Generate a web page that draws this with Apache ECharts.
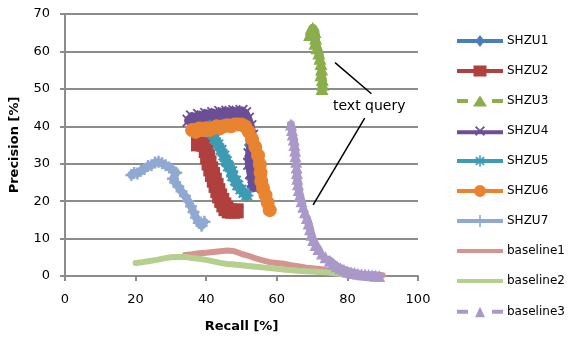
<!DOCTYPE html>
<html><head><meta charset="utf-8">
<script src="https://cdn.jsdelivr.net/npm/echarts@6/dist/echarts.min.js"></script>
<style>html,body{margin:0;padding:0;background:#fff}#c{width:570px;height:338px}</style>
</head><body><div id="c"></div>
<script>
const seriesNames = ['SHZU1','SHZU2','SHZU3','SHZU4','SHZU5','SHZU6','SHZU7','baseline1','baseline2','baseline3'];
const xTicks = [0,20,40,60,80,100];
const yTicks = [0,10,20,30,40,50,60,70];

const shzu1 = [[36,41],[38,41.3],[40,41.5],[42,41.8],[44,42],[46,42.2],[48,42.5],[50,42.3],[51.5,41.5],[52.3,38.5],[52.5,35],[52.5,32],[52.7,29],[53,26],[53.2,24]];
const shzu2 = [[37.8,35.3],[39.3,35.2],[40,33.5],[40.4,31.8],[40.8,30.2],[41.3,28.6],[41.8,27.1],[42.3,25.6],[42.8,24.2],[43.3,22.8],[43.8,21.4],[44.4,20.2],[45,19],[45.6,18],[46.5,17.4],[47.5,17.3],[48.5,17.4]];
const shzu3 = [[69.3,64.5],[70.2,66.2],[70.8,65.3],[71,63.6],[70.8,62.2],[71.4,61],[71.9,59.6],[72.2,58.2],[72.5,56.8],[72.7,55.3],[72.5,53.8],[72.9,52.5],[73,51.2],[72.8,50.1]];
const shzu4 = [[35,41.5],[36,42.6],[37,42],[38,43],[39,42.4],[40,43.3],[41,42.6],[42,43.5],[43,43],[44,43.8],[45,43.2],[46,43.9],[47,43.1],[48,44],[49,43.5],[50,44.1],[51,43.5],[51.8,42],[52.5,40],[53,37.5],[52.8,35],[52.3,32.5],[52.2,30],[52.7,27.5],[53.2,25.2],[53.4,23.6]];
const shzu5 = [[41,40],[41.6,38.2],[42.4,36.7],[43.3,35.2],[44.2,33.7],[45,32.2],[45.7,30.7],[46.3,29.3],[47.2,28],[47.5,26.6],[48.3,25.5],[48.9,24.2],[49.8,23.1],[50.7,22.2],[51.5,21.5]];
const shzu6 = [[36,39],[37,38.5],[38,39.4],[39,39],[40,39.5],[41,39],[42,39.5],[43,40],[44,39.5],[45,40],[46,40.3],[47,40],[48,40.5],[49,40.5],[50,40.5],[51,40],[52,38.6],[53,36.6],[53.9,34.5],[54.7,32.2],[55.2,29.8],[55.4,27.6],[55.6,25.3],[56.1,23.5],[56.8,21.6],[57.4,19.6],[58,17.6]];
const shzu7 = [[18.8,27],[19.6,27.5],[20.5,27.4],[21.5,28.1],[22.5,28.6],[23.5,29.4],[24.5,29.6],[25.5,30.3],[26.5,30.5],[27.5,30.1],[28.5,29.6],[29.5,29],[30.5,28.4],[31.5,27.6],[30.6,26],[31.2,25],[32.1,23.9],[33,22.6],[34,21.4],[34.9,20],[35.7,18.6],[36.4,17.1],[37.1,15.6],[37.9,14.2],[38.7,13.4],[39.5,14.5]];
const baseline1 = [[34,5.6],[36,5.8],[38,6.1],[40,6.2],[42,6.4],[44,6.6],[46,6.8],[48,6.6],[50,5.9],[52,5.4],[54,4.7],[56,4.2],[58,3.7],[60,3.5],[62,3.3],[64,2.9],[66,2.6],[68,2.3],[70,2.1],[72,1.9],[74,1.6],[76,1.4],[78,1.1],[80,0.9],[82,0.7],[84,0.6],[86,0.5],[88,0.4],[90,0.2]];
const baseline2 = [[20,3.5],[22,3.7],[24,4],[26,4.3],[28,4.7],[30,5],[32,5.1],[34,5.1],[36,4.8],[38,4.6],[40,4.3],[42,3.9],[44,3.5],[46,3.2],[48,3.1],[50,2.9],[52,2.7],[54,2.5],[56,2.3],[58,2.1],[60,1.9],[62,1.7],[64,1.6],[66,1.4],[68,1.3],[70,1.2],[72,1.1],[74,1],[76,0.8],[78,0.5],[80,0.2]];
const baseline3 = [[64,40.5],[64.3,39],[64.5,37.8],[64.8,36.5],[65,35],[65.2,33.5],[65.3,32],[65.5,30.5],[65.6,29],[65.7,27.5],[65.8,26],[66,24.5],[66.2,23],[66.5,21.5],[67,20],[67.5,18.5],[68,17],[68.5,15.5],[69,14],[69.4,12.5],[69.8,11],[70.3,9.6],[71,8.3],[71.8,7.2],[72.8,6],[73.8,5],[75,4.1],[76,3.3],[77,2.6],[78,2.1],[79,1.7],[80,1.3],[81,1],[82,0.8],[83,0.6],[84,0.5],[85,0.4],[86,0.3],[87,0.2],[88,0.1],[89,0]];
const annotationLines = [[[76.5,57],[86.8,48.7]],[[84.9,42.2],[70.3,19]]];
const annotationText = 'text query';

const colors = ['#4a7ebb','#b0403d','#8aae4c','#6b4f96','#3d9bb3','#e8832f','#8fa9d2','#d49492','#b5cf8e','#aa99c8'];
const xPath = 'path://M1,0L5,4L9,0L10,1L6,5L10,9L9,10L5,6L1,10L0,9L4,5L0,1Z';
const starPath = 'path://M4.2,0H5.8V3.1L8.5,0.9L9.6,2L7,4.2H10V5.8H7L9.6,8L8.5,9.1L5.8,6.9V10H4.2V6.9L1.5,9.1L0.4,8L3,5.8H0V4.2H3L0.4,2L1.5,0.9L4.2,3.1Z';
const plusPath = 'path://M4,0H6V4H10V6H6V10H4V6H0V4H4Z';
const datasets = [shzu1,shzu2,shzu3,shzu4,shzu5,shzu6,shzu7,baseline1,baseline2,baseline3];
const symbols = ['diamond','rect','triangle',xPath,starPath,'circle',plusPath,'none','none','triangle'];
const symSizes = [13,15,13,13,13,14,12,0,0,12];
const lineWidths = [9,13,9,9,10,11,8,6,6,8];
const dashed = [false,false,true,false,false,false,false,false,false,true];

// legend icons (46 x <=14 box): bar + marker
const BAR = 'M0,5H46V9H0Z';
const DASH = 'M0,5H11V9H0ZM35,5H46V9H35Z';
const CIRCLE = 'M23,1L25.3,1.5L27.2,2.8L28.5,4.7L29,7L28.5,9.3L27.2,11.2L25.3,12.5L23,13L20.7,12.5L18.8,11.2L17.5,9.3L17,7L17.5,4.7L18.8,2.8L20.7,1.5Z';
const legendIcons = [
  'path://' + BAR + 'M23,1L27.5,7L23,13L18.5,7Z',
  'path://' + BAR + 'M16.5,1.5H29.5V12.5H16.5Z',
  'path://' + DASH + 'M23,1.5L30,12.5H16Z',
  'path://' + BAR + 'M18,2L19.2,0.8L23,4.6L26.8,0.8L28,2L24.2,5.8L28,9.6L26.8,10.8L23,7L19.2,10.8L18,9.6L21.8,5.8Z',
  'path://' + BAR + 'M22.2,1.5H23.8V5.1L26.6,2.6L27.7,3.7L25,6.2H28.5V7.8H25L27.7,10.3L26.6,11.4L23.8,8.9V12.5H22.2V8.9L19.4,11.4L18.3,10.3L21,7.8H17.5V6.2H21L18.3,3.7L19.4,2.6L22.2,5.1Z',
  'path://' + BAR + CIRCLE,
  'path://' + BAR + 'M22.2,1H23.8V13H22.2Z',
  'path://' + BAR,
  'path://' + BAR,
  'path://' + DASH + 'M23,2L28,12.5H18Z'
];
const legendCenters = [42,72,102,132,162,192,222,252,282,313];

const series = seriesNames.map((n,i)=>({
  name:n, type:'line', data:datasets[i], color:colors[i],
  symbol:symbols[i], symbolSize:symSizes[i], showSymbol: symbols[i]!=='none', showAllSymbol:true,
  lineStyle:{width:lineWidths[i], color:colors[i], type: dashed[i]?'dashed':'solid', cap:'round', join:'round'},
  itemStyle:{color:colors[i], borderWidth:0}, animation:false, z:2+i
}));
series.push({
  type:'line', data:[], silent:true, animation:false,
  markLine:{silent:true, symbol:'none', animation:false, label:{show:false},
    lineStyle:{color:'#000', width:1.5, type:'solid'},
    data: annotationLines.map(l=>[{coord:l[0]},{coord:l[1]}])}
});

const legends = seriesNames.map((n,i)=>({
  orient:'vertical', left:457, top:legendCenters[i]-7, padding:0, itemWidth:46, itemHeight:14,
  data:[{name:n, icon:legendIcons[i]}], selectedMode:false, symbolKeepAspect:true,
  itemStyle:{borderWidth:0},
  textStyle:{fontFamily:'DejaVu Sans', fontSize:12, color:'#000', padding:[0,0,0,-1]}
}));

const chart = echarts.init(document.getElementById('c'));
const axisFont = {fontFamily:'DejaVu Sans', fontSize:13, color:'#000'};
chart.setOption({
  backgroundColor:'#fff',
  animation:false,
  grid:{left:64, right:152, top:14, bottom:58},
  xAxis:{type:'value', min:0, max:100, interval:20,
    name:'Recall [%]', nameLocation:'middle', nameGap:44,
    nameTextStyle:{fontFamily:'DejaVu Sans', fontSize:13, fontWeight:'bold', color:'#000'},
    axisLine:{show:true, lineStyle:{color:'#8c8c8c', width:2}},
    axisTick:{show:true, length:5, lineStyle:{color:'#8c8c8c', width:2}},
    axisLabel:Object.assign({margin:17, formatter:v=>xTicks.includes(v)?String(v):''}, axisFont),
    splitLine:{show:false}},
  yAxis:{type:'value', min:0, max:70, interval:10,
    name:'Precision [%]', nameLocation:'middle', nameGap:44,
    nameTextStyle:{fontFamily:'DejaVu Sans', fontSize:13, fontWeight:'bold', color:'#000'},
    axisLine:{show:true, lineStyle:{color:'#8c8c8c', width:2}},
    axisTick:{show:true, length:5, lineStyle:{color:'#8c8c8c', width:2}},
    axisLabel:Object.assign({margin:15, formatter:v=>yTicks.includes(v)?String(v):''}, axisFont),
    splitLine:{show:true, lineStyle:{color:'#8c8c8c', width:2}}},
  legend:legends,
  graphic:[{type:'text', left:333, top:99, style:{text:annotationText, fontFamily:'DejaVu Sans', fontSize:14, fill:'#000'}}],
  series:series
});
</script></body></html>
